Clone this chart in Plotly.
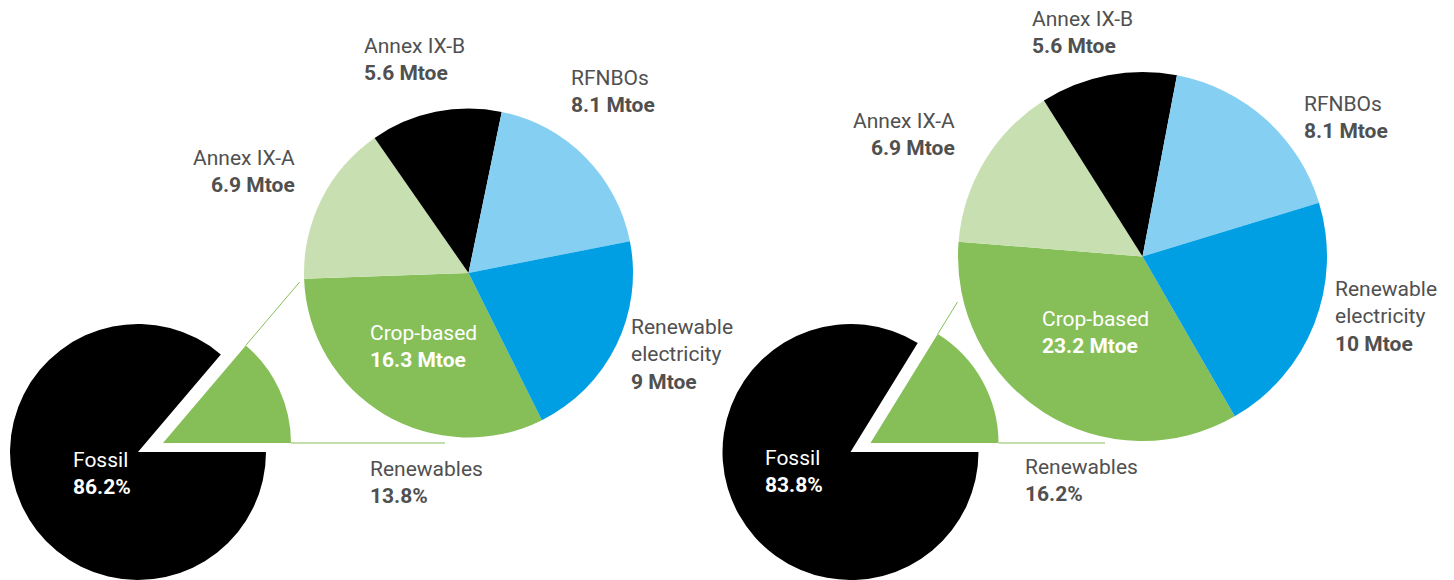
import math
import plotly.graph_objects as go

W, H = 1454, 580

# ---------------- data ----------------
mix_categories = ["Fossil", "Renewables"]
left_mix_pct = [86.2, 13.8]
right_mix_pct = [83.8, 16.2]

breakdown_categories = ["Crop-based", "Annex IX-A", "Annex IX-B", "RFNBOs", "Renewable electricity"]
breakdown_label_text = ["Crop-based", "Annex IX-A", "Annex IX-B", "RFNBOs", "Renewable<br>electricity"]
left_mtoe = [16.3, 6.9, 5.6, 8.1, 9]
right_mtoe = [23.2, 6.9, 5.6, 8.1, 10]
# slice sizes as they are drawn in the picture (crop-based slice is drawn smaller than its label)
left_slice_sizes = [13.8, 6.9, 5.6, 8.1, 9.0]
right_slice_sizes = [16.2, 6.9, 5.6, 8.1, 10.0]

# ---------------- styles ----------------
BLACK = "#000000"
GREEN = "#86BE57"
LIGHT_GREEN = "#C8E0B1"
LIGHT_BLUE = "#85CFF2"
BLUE = "#009FE3"
TRANSPARENT = "rgba(0,0,0,0)"
TEXT_GREY = "#505050"
FONT = "Roboto"
FONT_SIZE = 21
breakdown_colors = [GREEN, LIGHT_GREEN, BLACK, LIGHT_BLUE, BLUE]


def domain(cx, cy, r):
    x0, x1 = (cx - r) / W, (cx + r) / W
    y0, y1 = (H - (cy + r)) / H, (H - (cy - r)) / H
    clamp = lambda v: min(1.0, max(0.0, v))
    return dict(x=[clamp(x0), clamp(x1)], y=[clamp(y0), clamp(y1)])


fig = go.Figure()

# layout of each panel: (small pie centre, radius, pull offset, big pie centre, radius, rotation)
panels = [
    dict(mix=left_mix_pct, sizes=left_slice_sizes, mtoe=left_mtoe,
         small=(138, 452, 128), off=(25, -9), big=(468.5, 273, 164.5), rot=153.5,
         line_top_y=282, line_bottom_x=445),
    dict(mix=right_mix_pct, sizes=right_slice_sizes, mtoe=right_mtoe,
         small=(850.5, 452, 128), off=(20, -9), big=(1142.5, 256.5, 184.5), rot=150,
         line_top_y=302, line_bottom_x=1105),
]

shapes = []
for p in panels:
    cx, cy, r = p["small"]
    dx, dy = p["off"]
    # fossil part
    fig.add_trace(go.Pie(
        labels=mix_categories, values=p["mix"], sort=False, direction="clockwise",
        rotation=90, marker=dict(colors=[BLACK, TRANSPARENT], line=dict(width=0)),
        textinfo="none", hoverinfo="label+percent", showlegend=False,
        domain=domain(cx, cy, r)))
    # exploded renewables part
    fig.add_trace(go.Pie(
        labels=mix_categories, values=p["mix"], sort=False, direction="clockwise",
        rotation=90, marker=dict(colors=[TRANSPARENT, GREEN], line=dict(width=0)),
        textinfo="none", hoverinfo="label+percent", showlegend=False,
        domain=domain(cx + dx, cy + dy, r)))
    # breakdown pie
    bx, by, br = p["big"]
    fig.add_trace(go.Pie(
        labels=breakdown_categories, values=p["sizes"], sort=False, direction="clockwise",
        rotation=p["rot"], marker=dict(colors=breakdown_colors, line=dict(width=0)),
        textinfo="none", hoverinfo="label+value", showlegend=False,
        domain=domain(bx, by, br)))

    # connector lines derived from the renewables slice geometry
    ang = math.radians(360 * p["mix"][1] / sum(p["mix"]))
    vx, vy = cx + dx, cy + dy
    tx, ty = vx + r * math.cos(ang), vy - r * math.sin(ang)
    ex = tx + (ty - p["line_top_y"]) / math.tan(ang)
    shapes.append(dict(type="line", xref="paper", yref="paper",
                       x0=tx / W, y0=(H - ty) / H, x1=ex / W, y1=(H - p["line_top_y"]) / H,
                       line=dict(color=GREEN, width=1)))
    shapes.append(dict(type="line", xref="paper", yref="paper",
                       x0=(vx + r) / W, y0=(H - vy) / H, x1=p["line_bottom_x"] / W, y1=(H - vy) / H,
                       line=dict(color=GREEN, width=1)))


def fmt(v):
    return ("%g" % v)


annotations = []


def label(x, y, text, anchor="left", color=TEXT_GREY):
    annotations.append(dict(
        x=x / W, y=(H - y) / H, xref="paper", yref="paper", text=text, showarrow=False,
        xanchor=anchor, yanchor="middle", align=anchor,
        font=dict(family=FONT, size=FONT_SIZE, color=color)))


def two(name, value):
    return f"{name}<br><b>{value}</b>"


# Left panel labels
lp = [
    (362, 60, 2, "left"), (569, 91, 3, "left"), (297, 171, 1, "right"), (629, 354, 4, "left"),
]
for x, y, i, a in lp:
    label(x, y, two(breakdown_label_text[i], fmt(left_mtoe[i]) + " Mtoe"), a)
label(368, 347, two(breakdown_label_text[0], fmt(left_mtoe[0]) + " Mtoe"), "left", "#FFFFFF")
label(71, 473, two(mix_categories[0], f"{left_mix_pct[0]}%"), "left", "#FFFFFF")
label(368, 482, two(mix_categories[1], f"{left_mix_pct[1]}%"), "left")

# Right panel labels
rp = [
    (1030, 32, 2, "left"), (1302, 118, 3, "left"), (957, 134, 1, "right"), (1333, 317, 4, "left"),
]
for x, y, i, a in rp:
    label(x, y, two(breakdown_label_text[i], fmt(right_mtoe[i]) + " Mtoe"), a)
label(1040, 332, two(breakdown_label_text[0], fmt(right_mtoe[0]) + " Mtoe"), "left", "#FFFFFF")
label(763, 471, two(mix_categories[0], f"{right_mix_pct[0]}%"), "left", "#FFFFFF")
label(1023, 480, two(mix_categories[1], f"{right_mix_pct[1]}%"), "left")

fig.update_layout(
    width=W, height=H, margin=dict(l=0, r=0, t=0, b=0),
    paper_bgcolor="white", plot_bgcolor="white",
    shapes=shapes, annotations=annotations,
    font=dict(family=FONT, color=TEXT_GREY),
)

fig.write_html("out.html")
